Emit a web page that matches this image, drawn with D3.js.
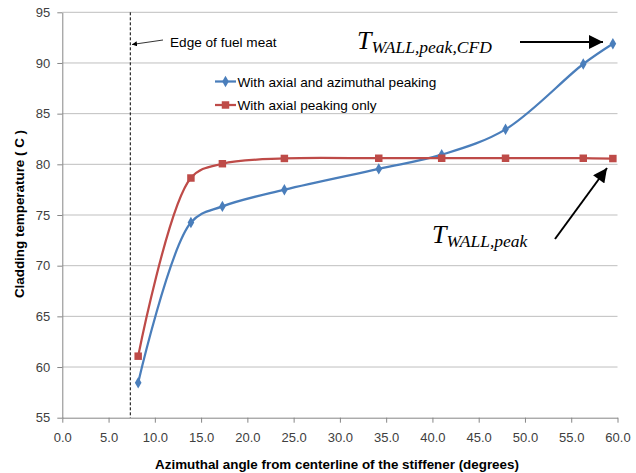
<!DOCTYPE html>
<html><head><meta charset="utf-8">
<script src="https://cdn.jsdelivr.net/npm/d3@7"></script>
<style>body{margin:0;background:#fff}svg{display:block}</style>
</head><body>
<svg id="chart" width="636" height="473"></svg>
<script>
const xTicks = [0,5,10,15,20,25,30,35,40,45,50,55,60];
const yTicks = [55,60,65,70,75,80,85,90,95];
const angles = [8.2, 13.9, 17.3, 24.0, 34.2, 41.0, 47.9, 56.3, 59.5];
const axialAzimuthal = [58.45, 74.25, 75.85, 77.5, 79.55, 80.95, 83.45, 89.9, 91.9];
const axialOnly = [61.07, 78.65, 80.06, 80.58, 80.6, 80.6, 80.6, 80.6, 80.57];
const seriesNames = ["With axial and azimuthal peaking", "With axial peaking only"];
const fuelEdge = 7.35;

const svg = d3.select("#chart");
const m = {l:62.3, r:617.5, t:12.3, b:417.7};
const x = d3.scaleLinear().domain([0,60]).range([m.l, m.r]);
const y = d3.scaleLinear().domain([55,95]).range([m.b, m.t]);
const font = "'Liberation Sans', Arial, sans-serif";

// gridlines
svg.append("g").selectAll("line").data(yTicks.filter(d=>d>55)).join("line")
  .attr("x1", m.l).attr("x2", m.r).attr("y1", d=>y(d)).attr("y2", d=>y(d))
  .attr("stroke", "#bfbfbf").attr("stroke-width", 1);

// axes
const xAxis = svg.append("g").attr("transform", `translate(0,${m.b})`)
  .call(d3.axisBottom(x).tickValues(xTicks).tickFormat(d3.format(".1f")).tickSize(5).tickSizeOuter(0));
const yAxis = svg.append("g").attr("transform", `translate(${m.l},0)`)
  .call(d3.axisLeft(y).tickValues(yTicks).tickSize(5).tickSizeOuter(0));
[xAxis, yAxis].forEach(a => {
  a.select(".domain").attr("stroke", "#868686");
  a.selectAll(".tick line").attr("stroke", "#868686");
  a.selectAll(".tick text").attr("fill", "#404040").style("font-family", font).style("font-size", "13px");
});
xAxis.selectAll(".tick text").attr("dy", "0").attr("y", 24);
yAxis.selectAll(".tick text").attr("x", -12);

// fuel edge dashed line
svg.append("line").attr("x1", x(fuelEdge)).attr("x2", x(fuelEdge)).attr("y1", m.t).attr("y2", m.b)
  .attr("stroke", "#000").attr("stroke-width", 1).attr("stroke-dasharray", "3,2");

// arrow markers
const defs = svg.append("defs");
defs.append("marker").attr("id","smallArrow").attr("viewBox","0 0 10 10").attr("refX",10).attr("refY",5)
  .attr("markerWidth",5).attr("markerHeight",5).attr("orient","auto").attr("markerUnits","userSpaceOnUse")
  .append("path").attr("d","M0,0L10,5L0,10z").attr("fill","#000");
defs.append("marker").attr("id","bigArrow").attr("viewBox","0 0 10 10").attr("refX",10).attr("refY",5)
  .attr("markerWidth",15).attr("markerHeight",14).attr("orient","auto").attr("markerUnits","userSpaceOnUse")
  .append("path").attr("d","M0,0L10,5L0,10z").attr("fill","#000");

svg.append("text").attr("x", 170).attr("y", 46.5).text("Edge of fuel meat")
  .style("font-family", font).style("font-size", "13.6px").attr("fill", "#000");
svg.append("line").attr("x1", 163).attr("y1", 40).attr("x2", 132).attr("y2", 44.5)
  .attr("stroke", "#000").attr("stroke-width", 0.8).attr("marker-end", "url(#smallArrow)");

// series
const colors = ["#4a7ebb", "#be4b48"];
const data = [axialAzimuthal, axialOnly].map(vals => angles.map((a,i)=>({x:a, y:vals[i]})));
const line = d3.line().x(d=>x(d.x)).y(d=>y(d.y)).curve(d3.curveCatmullRom.alpha(0.5));
data.forEach((s,i) => {
  svg.append("path").attr("d", line(s)).attr("fill","none").attr("stroke", colors[i]).attr("stroke-width", 2.25);
});
const diamond = d3.symbol().type(d3.symbolDiamond).size(38);
const square = d3.symbol().type(d3.symbolSquare).size(56);
svg.append("g").selectAll("path").data(data[0]).join("path")
  .attr("transform", d=>`translate(${x(d.x)},${y(d.y)})`).attr("d", diamond()).attr("fill", colors[0]);
svg.append("g").selectAll("path").data(data[1]).join("path")
  .attr("transform", d=>`translate(${x(d.x)},${y(d.y)})`).attr("d", square()).attr("fill", colors[1]);

// legend
const lg = svg.append("g");
seriesNames.forEach((n,i) => {
  const ly = 81.5 + i*23.5;
  lg.append("line").attr("x1", 215).attr("x2", 236).attr("y1", ly).attr("y2", ly).attr("stroke", colors[i]).attr("stroke-width", 2.25);
  lg.append("path").attr("transform", `translate(225.5,${ly})`).attr("d", i===0?diamond():square()).attr("fill", colors[i]);
  lg.append("text").attr("x", 237.5).attr("y", ly+5).text(n)
    .style("font-family", font).style("font-size", "13.6px").attr("fill", "#000");
});

// T annotations
const serif = "'Liberation Serif', 'Times New Roman', serif";
const t1 = svg.append("text").attr("x", 357).attr("y", 49).style("font-family", serif).style("font-style","italic").attr("fill","#000");
t1.append("tspan").text("T").style("font-size", "26px");
t1.append("tspan").text("WALL,peak,CFD").style("font-size", "17.5px").attr("dy", 4);
svg.append("line").attr("x1", 520).attr("y1", 42).attr("x2", 603).attr("y2", 42)
  .attr("stroke","#000").attr("stroke-width", 2).attr("marker-end","url(#bigArrow)");

const t2 = svg.append("text").attr("x", 432).attr("y", 243).style("font-family", serif).style("font-style","italic").attr("fill","#000");
t2.append("tspan").text("T").style("font-size", "26px");
t2.append("tspan").text("WALL,peak").style("font-size", "17.5px").attr("dy", 4);
svg.append("line").attr("x1", 555).attr("y1", 239).attr("x2", 607).attr("y2", 168)
  .attr("stroke","#000").attr("stroke-width", 2).attr("marker-end","url(#bigArrow)");

// axis titles
svg.append("text").attr("x", 337).attr("y", 469).attr("text-anchor","middle")
  .text("Azimuthal angle from centerline of the stiffener (degrees)")
  .style("font-family", font).style("font-size", "13.4px").style("font-weight","bold").attr("fill","#000");
svg.append("text").attr("transform", "translate(24,214) rotate(-90)").attr("text-anchor","middle")
  .text("Cladding temperature ( C )")
  .style("font-family", font).style("font-size", "13.4px").style("font-weight","bold").attr("fill","#000");
</script>
</body></html>
